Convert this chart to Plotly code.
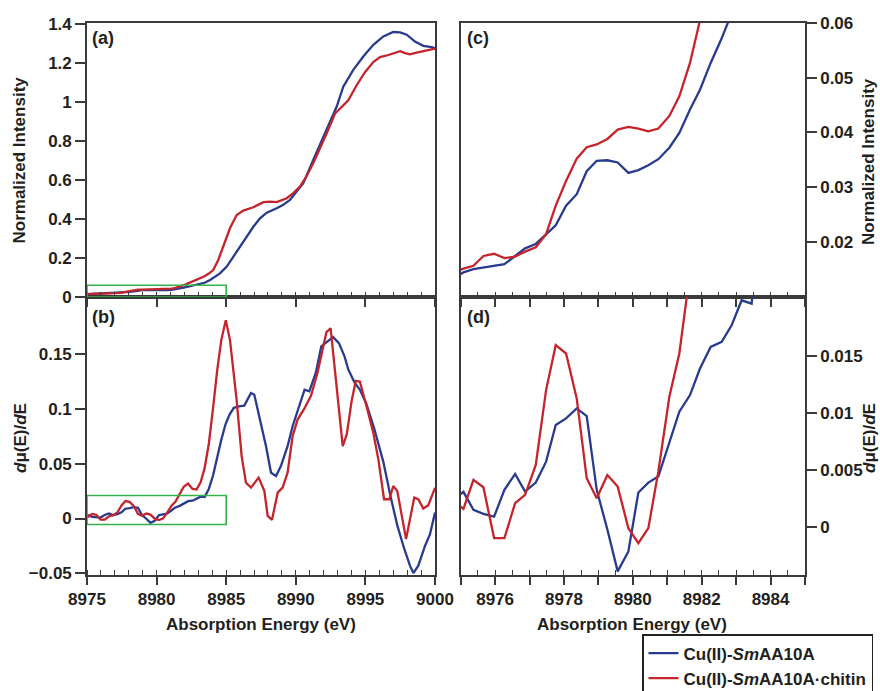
import plotly.graph_objects as go

# ---------------- data ----------------
E_MU_BLUE = [8975.0, 8975.08, 8975.37, 8975.66, 8975.97, 8976.27, 8976.58, 8976.87, 8977.18, 8977.48,
             8977.76, 8978.06, 8978.37, 8978.66, 8978.95, 8979.26, 8979.56, 8979.87, 8980.16, 8980.45,
             8980.74, 8981.06, 8981.35, 8981.66, 8981.95, 8982.26, 8982.58, 8982.87, 8983.16, 8983.45,
             8983.84, 8984.2, 8984.55, 8985.04, 8985.51, 8986.0, 8986.47, 8986.95, 8987.43, 8987.91,
             8988.63, 8989.1, 8989.58, 8990.06, 8990.54, 8991.26, 8992.22, 8992.94, 8993.41, 8994.13,
             8994.85, 8995.57, 8996.29, 8997.0, 8997.49, 8997.97, 8998.56, 8999.16, 8999.76, 9000.0]
MU_BLUE = [0.0141, 0.0144, 0.0150, 0.0153, 0.0156, 0.0159, 0.0174, 0.0188, 0.0196, 0.0214,
           0.0230, 0.0266, 0.0287, 0.0329, 0.0348, 0.0349, 0.0345, 0.0326, 0.0331, 0.0340,
           0.0351, 0.0372, 0.0399, 0.0442, 0.0478, 0.0527, 0.0572, 0.0618, 0.067, 0.073,
           0.087, 0.102, 0.121, 0.156, 0.207, 0.258, 0.309, 0.36, 0.403, 0.432,
           0.455, 0.472, 0.497, 0.54, 0.583, 0.703, 0.856, 0.976, 1.078, 1.164,
           1.232, 1.292, 1.335, 1.358, 1.356, 1.344, 1.309, 1.287, 1.281, 1.275]

E_MU_RED = [8975.0, 8975.08, 8975.37, 8975.66, 8975.97, 8976.27, 8976.58, 8976.87, 8977.18, 8977.48,
            8977.76, 8978.06, 8978.37, 8978.66, 8978.95, 8979.26, 8979.56, 8979.87, 8980.16, 8980.45,
            8980.74, 8981.06, 8981.35, 8981.66, 8981.95, 8982.26, 8982.58, 8982.87, 8983.16, 8983.45,
            8983.75, 8984.07, 8984.43, 8984.79, 8985.27, 8985.75, 8986.23, 8986.95, 8987.67, 8988.15,
            8988.63, 8989.35, 8989.82, 8990.3, 8990.78, 8991.26, 8991.74, 8992.22, 8992.82, 8993.29,
            8993.77, 8994.37, 8994.97, 8995.57, 8996.05, 8996.65, 8997.13, 8997.49, 8997.85, 8998.2,
            8998.68, 8999.28, 9000.0]
MU_RED = [0.0149, 0.0151, 0.0156, 0.0174, 0.0178, 0.0170, 0.0173, 0.0182, 0.0190, 0.0214,
          0.0266, 0.0311, 0.0352, 0.0373, 0.0378, 0.0388, 0.0405, 0.0410, 0.0407, 0.0402,
          0.0407, 0.0430, 0.0466, 0.0527, 0.0605, 0.070, 0.080, 0.088, 0.096, 0.106,
          0.120, 0.138, 0.19, 0.258, 0.352, 0.42, 0.443, 0.46, 0.486, 0.489,
          0.486, 0.506, 0.532, 0.566, 0.62, 0.686, 0.76, 0.839, 0.94, 0.974,
          1.008, 1.085, 1.152, 1.204, 1.229, 1.24, 1.25, 1.26, 1.25, 1.243,
          1.252, 1.26, 1.273]

E_D_BLUE = [8975.0, 8975.08, 8975.37, 8975.66, 8975.97, 8976.27, 8976.58, 8976.87, 8977.18, 8977.48,
            8977.76, 8978.06, 8978.37, 8978.66, 8978.95, 8979.26, 8979.56, 8979.87, 8980.16, 8980.45,
            8980.74, 8981.06, 8981.35, 8981.66, 8981.95, 8982.26, 8982.58, 8982.87, 8983.16, 8983.45,
            8983.75, 8984.05, 8984.35, 8984.65, 8984.95, 8985.25, 8985.55, 8985.9, 8986.3, 8986.78,
            8987.02, 8987.38, 8987.86, 8988.22, 8988.58, 8988.93, 8989.41, 8989.77, 8990.25, 8990.63,
            8990.97, 8991.44, 8991.83, 8992.25, 8992.68, 8993.1, 8993.5, 8993.77, 8994.22, 8994.6,
            8995.06, 8995.66, 8996.3, 8996.8, 8997.3, 8997.8, 8998.2, 8998.45, 8998.8, 8999.28,
            8999.64, 9000.0]
D_BLUE = [0.0029, 0.0031, 0.00152, 0.00117, 0.00093, 0.00327, 0.00467, 0.00312, 0.00391, 0.00575,
          0.00896, 0.00955, 0.01042, 0.00975, 0.00327, -0.0002, -0.00388, -0.00213, 0.00304, 0.00391,
          0.00444, 0.00736, 0.01013, 0.01159, 0.01392, 0.01582, 0.01626, 0.01772, 0.01991, 0.01962,
          0.027, 0.039, 0.056, 0.072, 0.086, 0.095, 0.101, 0.1024, 0.103, 0.1145,
          0.113, 0.0933, 0.066, 0.0418, 0.0388, 0.0479, 0.066, 0.0842, 0.1039, 0.1175,
          0.116, 0.133, 0.157, 0.161, 0.1655, 0.16, 0.148, 0.136, 0.124, 0.1176,
          0.105, 0.081, 0.051, 0.0205, -0.0067, -0.028, -0.043, -0.0497, -0.043, -0.025,
          -0.0143, 0.0055]

E_D_RED = [8975.0, 8975.08, 8975.37, 8975.66, 8975.97, 8976.27, 8976.58, 8976.87, 8977.18, 8977.48,
           8977.76, 8978.06, 8978.37, 8978.66, 8978.95, 8979.26, 8979.56, 8979.87, 8980.16, 8980.45,
           8980.74, 8981.06, 8981.35, 8981.66, 8981.95, 8982.26, 8982.58, 8982.87, 8983.16, 8983.45,
           8983.75, 8984.05, 8984.35, 8984.65, 8984.97, 8985.27, 8985.75, 8986.11, 8986.42, 8986.78,
           8987.33, 8987.74, 8987.98, 8988.29, 8988.7, 8989.05, 8989.41, 8989.77, 8990.13, 8990.6,
           8991.09, 8991.56, 8992.04, 8992.2, 8992.5, 8993.37, 8993.66, 8994.02, 8994.31, 8994.6,
           8995.09, 8995.57, 8995.93, 8996.34, 8996.72, 8997.0, 8997.29, 8997.92, 8998.51, 8998.8,
           8999.16, 8999.52, 9000.0]
D_RED = [0.0018, 0.0016, 0.00415, 0.0035, -0.00096, -0.00096, 0.0021, 0.00283, 0.00546, 0.01203,
         0.01597, 0.01524, 0.0113, 0.00429, 0.00254, 0.00458, 0.00356, -0.00009, -0.0014, -0.00009,
         0.00487, 0.01144, 0.01524, 0.022, 0.029, 0.032, 0.027, 0.0265, 0.033, 0.046,
         0.068, 0.1, 0.135, 0.163, 0.181, 0.163, 0.108, 0.057, 0.0327, 0.0282,
         0.0373, 0.0252, 0.0024, -0.0012, 0.0236, 0.0282, 0.0418, 0.0752, 0.0903, 0.1,
         0.112, 0.133, 0.163, 0.170, 0.1736, 0.066, 0.0767, 0.108, 0.1257, 0.125,
         0.102, 0.078, 0.054, 0.0176, 0.0176, 0.0297, 0.0252, -0.0188, 0.0191, 0.0176,
         0.0091, 0.0121, 0.028]

SERIES_NAMES = ["Cu(II)-<i>Sm</i>AA10A", "Cu(II)-<i>Sm</i>AA10A·chitin"]
PANEL_LABELS = ["(a)", "(b)", "(c)", "(d)"]
X_TITLE = "Absorption Energy (eV)"
Y_TITLE_MU = "Normalized Intensity"
Y_TITLE_D = "<i>d</i>μ(E)/<i>d</i>E"

X_RANGE_FULL = [8975, 9000]
X_RANGE_ZOOM = [8975, 8985]
Y_RANGE_A = [0, 1.404]
Y_RANGE_B = [-0.0515, 0.2021]
Y_RANGE_C = [0.0099, 0.06]
Y_RANGE_D = [-0.0042, 0.0202]
Y_TICKS_A = [0, 0.2, 0.4, 0.6, 0.8, 1, 1.2, 1.4]
Y_TICKS_B = [-0.05, 0, 0.05, 0.1, 0.15]
Y_TICKS_C = [0.02, 0.03, 0.04, 0.05, 0.06]
Y_TICKS_D = [0, 0.005, 0.01, 0.015]
X_TICKS_FULL = [8975, 8980, 8985, 8990, 8995, 9000]
X_TICKS_ZOOM = [8975, 8976, 8977, 8978, 8979, 8980, 8981, 8982, 8983, 8984, 8985]
X_TICKTEXT_ZOOM = ["", "8976", "", "8978", "", "8980", "", "8982", "", "8984", ""]
BOX_A = dict(x=[8975, 8985], y=[0.0, 0.06])
BOX_B = dict(x=[8975, 8985], y=[-0.0055, 0.021])

# ---------------- styling ----------------
W, H = 880, 691
BLUE = "#283b8e"
RED = "#c4242c"
GREEN = "#35b34a"
AXC = "#3a3a3a"
FAM = "Liberation Sans, Arial, sans-serif"
FONT = dict(family=FAM, size=17, color="#231f20", weight="bold")


def fx(p):
    return p / W


def fy(p):
    return 1 - p / H


DOM_L = [fx(87), fx(435)]
DOM_R = [fx(460.7), fx(805)]
DOM_T = [fy(297), fy(23)]
DOM_B = [fy(575), fy(297)]

fig = go.Figure()

panels = [("x", "y", E_MU_BLUE, MU_BLUE, E_MU_RED, MU_RED, True),
          ("x2", "y2", E_D_BLUE, D_BLUE, E_D_RED, D_RED, False),
          ("x3", "y3", E_MU_BLUE, MU_BLUE, E_MU_RED, MU_RED, False),
          ("x4", "y4", E_D_BLUE, D_BLUE, E_D_RED, D_RED, False)]
for xa, ya, eb, vb, er, vr, leg in panels:
    fig.add_trace(go.Scatter(x=eb, y=vb, mode="lines", line=dict(color=BLUE, width=2.3),
                             name=SERIES_NAMES[0], showlegend=leg, xaxis=xa, yaxis=ya))
    fig.add_trace(go.Scatter(x=er, y=vr, mode="lines", line=dict(color=RED, width=2.3),
                             name=SERIES_NAMES[1], showlegend=leg, xaxis=xa, yaxis=ya))

base = dict(showline=True, linecolor=AXC, linewidth=1.6, mirror=True, showgrid=False,
            zeroline=False, tickcolor=AXC, tickwidth=1.5, tickfont=FONT, automargin=False)
over = dict(showline=False, showgrid=False, zeroline=False, tickcolor=AXC, tickwidth=1.5,
            showticklabels=False, ticks="inside", automargin=False)

fig.update_layout(
    xaxis=dict(base, domain=DOM_L, anchor="y", range=X_RANGE_FULL, tickvals=X_TICKS_FULL,
               ticks="outside", ticklen=8, showticklabels=False,
               minor=dict(ticks="inside", ticklen=5, dtick=1, tick0=8975, tickcolor=AXC, tickwidth=1.3)),
    xaxis5=dict(over, overlaying="x", anchor="y", side="bottom", range=X_RANGE_FULL,
                tickvals=X_TICKS_FULL, ticklen=6),
    xaxis2=dict(base, domain=DOM_L, anchor="y2", range=X_RANGE_FULL, tickvals=X_TICKS_FULL,
                ticks="outside", ticklen=8,
                minor=dict(ticks="inside", ticklen=5, dtick=1, tick0=8975, tickcolor=AXC, tickwidth=1.3)),
    xaxis6=dict(over, overlaying="x2", anchor="y2", side="bottom", range=X_RANGE_FULL,
                tickvals=X_TICKS_FULL, ticklen=8),
    xaxis3=dict(base, domain=DOM_R, anchor="y3", range=X_RANGE_ZOOM, tickvals=X_TICKS_ZOOM,
                ticks="outside", ticklen=8, showticklabels=False,
                minor=dict(ticks="inside", ticklen=5, dtick=0.5, tick0=8975, tickcolor=AXC, tickwidth=1.3)),
    xaxis7=dict(over, overlaying="x3", anchor="y3", side="bottom", range=X_RANGE_ZOOM,
                tickvals=X_TICKS_ZOOM, ticklen=6),
    xaxis4=dict(base, domain=DOM_R, anchor="y4", range=X_RANGE_ZOOM, tickvals=X_TICKS_ZOOM,
                ticktext=X_TICKTEXT_ZOOM, ticks="outside", ticklen=8,
                minor=dict(ticks="inside", ticklen=5, dtick=0.5, tick0=8975, tickcolor=AXC, tickwidth=1.3)),
    xaxis8=dict(over, overlaying="x4", anchor="y4", side="bottom", range=X_RANGE_ZOOM,
                tickvals=X_TICKS_ZOOM, ticklen=8),
    yaxis=dict(base, domain=DOM_T, anchor="x", range=Y_RANGE_A, tickvals=Y_TICKS_A,
               ticks="outside", ticklen=10),
    yaxis2=dict(base, domain=DOM_B, anchor="x2", range=Y_RANGE_B, tickvals=Y_TICKS_B,
                ticks="outside", ticklen=10),
    yaxis3=dict(base, domain=DOM_T, anchor="x3", side="right", range=Y_RANGE_C, tickvals=Y_TICKS_C,
                ticks="outside", ticklen=10),
    yaxis4=dict(base, domain=DOM_B, anchor="x4", side="right", range=Y_RANGE_D, tickvals=Y_TICKS_D,
                ticks="outside", ticklen=10),
)

# zoom-region rectangles
fig.add_shape(type="rect", xref="x", yref="y", x0=BOX_A["x"][0], x1=BOX_A["x"][1],
              y0=BOX_A["y"][0], y1=BOX_A["y"][1], line=dict(color=GREEN, width=1.6))
fig.add_shape(type="rect", xref="x2", yref="y2", x0=BOX_B["x"][0], x1=BOX_B["x"][1],
              y0=BOX_B["y"][0], y1=BOX_B["y"][1], line=dict(color=GREEN, width=1.6))

ann = []
for lab, (xp, yp) in zip(PANEL_LABELS, [(90, 26), (90, 305), (465, 26), (465, 305)]):
    ann.append(dict(text=lab, x=fx(xp), y=fy(yp), xref="paper", yref="paper", xanchor="left",
                    yanchor="top", showarrow=False, font=dict(FONT, size=18)))
for txt, xp, yp, ang in [(Y_TITLE_MU, 18.5, 160, -90), (Y_TITLE_D, 20, 438, -90),
                         (Y_TITLE_MU, 869, 162, -90), (Y_TITLE_D, 869, 438, -90),
                         (X_TITLE, 261, 624, 0), (X_TITLE, 632, 624, 0)]:
    ann.append(dict(text=txt, x=fx(xp), y=fy(yp), xref="paper", yref="paper", xanchor="center",
                    yanchor="middle", showarrow=False, textangle=ang, font=FONT))

fig.update_layout(
    annotations=ann,
    width=W, height=H,
    margin=dict(l=0, r=0, t=0, b=0, autoexpand=False),
    plot_bgcolor="white", paper_bgcolor="white",
    showlegend=True,
    legend=dict(x=fx(642), y=fy(634), xanchor="left", yanchor="top", bordercolor="#222222",
                borderwidth=1.5, bgcolor="white", font=dict(FONT, size=17), tracegroupgap=0,
                itemwidth=30),
)

fig.write_html("out.html", config={"displayModeBar": False},
               post_script="document.body.style.margin='0px';")
